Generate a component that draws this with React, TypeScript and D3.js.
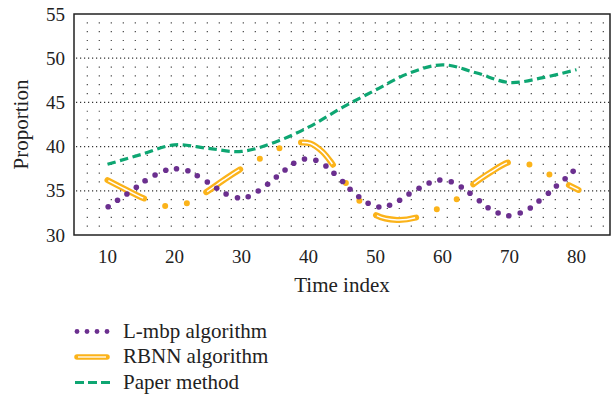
import { useLayoutEffect, useRef, useState } from "react";
import * as d3 from "d3";

const WIDTH = 613;
const HEIGHT = 398;
const MARGIN = { top: 14, right: 3, bottom: 163, left: 74 };
const FONT = "'Liberation Serif', 'Times New Roman', serif";

const PURPLE = "#6b2f8f";
const ORANGE = "#fbb31a";
const GREEN = "#0ea672";

const X_TICKS = [10, 20, 30, 40, 50, 60, 70, 80];
const Y_TICKS = [30, 35, 40, 45, 50, 55];

// L-mbp algorithm (dotted)
const LMBP_TIME = [
  10.1, 11.5, 12.9, 14.3, 15.6, 17.1, 18.7, 20.3, 22.0, 23.4, 24.9, 26.3, 27.7,
  29.4, 31.0, 32.5, 33.9, 35.2, 36.5, 37.8, 39.4, 41.1, 42.6, 43.8, 45.1, 46.2,
  47.5, 48.9, 50.5, 52.1, 53.6, 55.0, 56.5, 58.0, 59.6, 61.3, 62.8, 64.1, 65.5,
  66.8, 68.3, 69.9, 71.6, 73.1, 74.4, 75.8, 77.0, 78.3, 79.5,
];
const LMBP_VALUE = [
  33.2, 33.93, 34.64, 35.4, 36.14, 36.79, 37.32, 37.5, 37.27, 36.71, 36.0, 35.28,
  34.64, 34.22, 34.33, 34.98, 35.74, 36.56, 37.35, 38.11, 38.6, 38.45, 37.81,
  36.98, 36.05, 35.17, 34.33, 33.59, 33.17, 33.36, 33.93, 34.64, 35.28, 35.88,
  36.22, 36.03, 35.43, 34.72, 33.88, 33.09, 32.49, 32.18, 32.49, 33.05, 33.85,
  34.72, 35.54, 36.37, 37.2,
];

// RBNN algorithm (dash-dot-dot, double line)
const RBNN_TIME = [
  10, 12.7, 15.4, 18.5, 20.2, 21.8, 24.7, 27.3, 29.8, 32.6, 35.6, 38.6, 40.3,
  42.1, 43.6, 45.55, 47.6, 50.1, 53.2, 56.0, 59.1, 62.1, 64.6, 67.2, 69.7, 71.3,
  72.9, 75.9, 78.8, 80.3,
];
const RBNN_VALUE = [
  36.2, 35.15, 34.15, 33.3, 33.25, 33.58, 34.83, 36.2, 37.43, 38.56, 39.8, 40.44,
  40.35, 39.4, 38.0, 35.92, 33.88, 32.23, 31.7, 31.96, 32.9, 34.04, 35.74, 37.1,
  38.18, 38.35, 38.0, 36.87, 35.66, 35.1,
];

// Paper method (dashed)
const PAPER_TIME = [10, 15, 20, 25, 30, 35, 40, 45, 50, 55, 60, 65, 70, 75, 80];
const PAPER_VALUE = [
  38.0, 39.1, 40.2, 39.8, 39.45, 40.5, 42.2, 44.4, 46.4, 48.3, 49.25, 48.35,
  47.25, 47.8, 48.7,
];

const LEGEND = ["L-mbp algorithm", "RBNN algorithm", "Paper method"];

export default function App() {
  const rbnnRef = useRef<SVGPathElement>(null);
  const [dash, setDash] = useState({ outer: "none", inner: "none" });

  const x0 = MARGIN.left;
  const x1 = WIDTH - MARGIN.right;
  const y0 = MARGIN.top;
  const y1 = HEIGHT - MARGIN.bottom;

  const xScale = d3.scaleLinear().domain([5, 85]).range([x0, x1]);
  const yScale = d3.scaleLinear().domain([30, 55]).range([y1, y0]);

  const paperLine = d3
    .line<number>()
    .x((_, i) => xScale(PAPER_TIME[i]))
    .y((d) => yScale(d))
    .curve(d3.curveCatmullRom.alpha(0.5));

  const rbnnLine = d3
    .line<number>()
    .x((_, i) => xScale(RBNN_TIME[i]))
    .y((d) => yScale(d))
    .curve(d3.curveCatmullRom.alpha(0.5));

  const rbnnPath = rbnnLine(RBNN_VALUE) ?? "";

  // dash, dot, dot pattern fitted to the path length
  useLayoutEffect(() => {
    if (!rbnnRef.current) return;
    const L = rbnnRef.current.getTotalLength();
    const period = (L - 11) / 5;
    const D = period * 0.38;
    const G = (period - D) / 3;
    setDash({
      outer: `${D} ${G} 0 ${G} 0 ${G}`,
      inner: `${D - 2} ${period - D + 2}`,
    });
  }, [rbnnPath]);

  const minorRows = d3.range(31, 55).filter((v) => v % 5 !== 0);
  const majorRows = [35, 40, 45, 50];

  const legendY = [331.5, 357, 382.5];

  return (
    <svg
      width={WIDTH}
      height={HEIGHT}
      style={{ position: "absolute", left: 0, top: 0, background: "#fff" }}
      fontFamily={FONT}
    >
      {/* grid */}
      {minorRows.map((v) => (
        <line
          key={"m" + v}
          x1={x0 + 12.7}
          x2={x1}
          y1={yScale(v)}
          y2={yScale(v)}
          stroke="#444"
          strokeWidth={1.2}
          strokeDasharray="1.2 10.8"
        />
      ))}
      {majorRows.map((v) => (
        <line
          key={"M" + v}
          x1={x0 + 2}
          x2={x1}
          y1={yScale(v)}
          y2={yScale(v)}
          stroke="#333"
          strokeWidth={1.2}
          strokeDasharray="1.2 2.8"
        />
      ))}

      {/* paper method */}
      <path
        d={paperLine(PAPER_VALUE) ?? ""}
        fill="none"
        stroke={GREEN}
        strokeWidth={3.2}
        strokeDasharray="8.5 4.5"
      />

      {/* RBNN */}
      <path
        ref={rbnnRef}
        d={rbnnPath}
        fill="none"
        stroke={ORANGE}
        strokeWidth={6}
        strokeLinecap="round"
        strokeDasharray={dash.outer}
      />
      <path
        d={rbnnPath}
        fill="none"
        stroke="#fff"
        strokeWidth={1.5}
        strokeDasharray={dash.inner}
        strokeDashoffset={-1}
      />

      {/* L-mbp */}
      {LMBP_VALUE.map((v, i) => (
        <circle
          key={i}
          cx={xScale(LMBP_TIME[i])}
          cy={yScale(v)}
          r={2.8}
          fill={PURPLE}
        />
      ))}

      {/* frame */}
      <rect
        x={x0}
        y={y0}
        width={x1 - x0}
        height={y1 - y0}
        fill="none"
        stroke="#222"
        strokeWidth={1.5}
      />

      {/* ticks */}
      {Y_TICKS.map((t) => (
        <text
          key={t}
          x={x0 - 9}
          y={yScale(t)}
          textAnchor="end"
          dominantBaseline="central"
          fontSize={19}
          fill="#222"
        >
          {t}
        </text>
      ))}
      {X_TICKS.map((t) => (
        <text
          key={t}
          x={xScale(t)}
          y={263}
          textAnchor="middle"
          fontSize={19}
          fill="#222"
        >
          {t}
        </text>
      ))}

      <text
        x={(x0 + x1) / 2}
        y={292}
        textAnchor="middle"
        fontSize={21}
        fill="#222"
      >
        Time index
      </text>
      <text
        transform={`translate(28,${(y0 + y1) / 2}) rotate(-90)`}
        textAnchor="middle"
        fontSize={21}
        fill="#222"
      >
        Proportion
      </text>

      {/* legend */}
      <g>
        {[0, 1, 2, 3].map((k) => (
          <circle key={k} cx={77 + k * 10} cy={legendY[0]} r={2.4} fill={PURPLE} />
        ))}
        <line
          x1={77}
          x2={107}
          y1={legendY[1]}
          y2={legendY[1]}
          stroke={ORANGE}
          strokeWidth={5.5}
          strokeLinecap="round"
        />
        <line
          x1={78}
          x2={106}
          y1={legendY[1]}
          y2={legendY[1]}
          stroke="#fff"
          strokeWidth={1.3}
        />
        <line
          x1={75}
          x2={110}
          y1={legendY[2]}
          y2={legendY[2]}
          stroke={GREEN}
          strokeWidth={3}
          strokeDasharray="9 4"
        />
        {LEGEND.map((name, i) => (
          <text key={name} x={123} y={legendY[i] + 6} fontSize={21} fill="#222">
            {name}
          </text>
        ))}
      </g>
    </svg>
  );
}
